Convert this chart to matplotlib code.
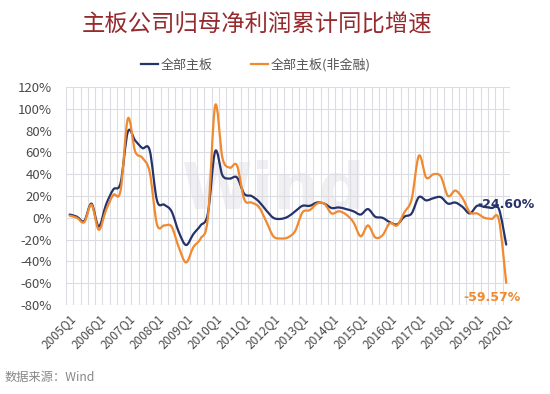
import numpy as np
import matplotlib
matplotlib.use('Agg')
import matplotlib.pyplot as plt
from matplotlib.path import Path
from matplotlib.patches import PathPatch
from matplotlib.lines import Line2D

plt.rcParams['font.family'] = ['Noto Sans CJK SC', 'DejaVu Sans']
plt.rcParams['axes.unicode_minus'] = False

#===============================================================================
# Data (quarterly, 2005Q1 - 2020Q1)
#===============================================================================
quarters = ['%dQ%d' % (y, q) for y in range(2005, 2021) for q in range(1, 5)][:61]
tick_labels = ['%dQ1' % y for y in range(2005, 2021)]

all_main = [3, 1, -3, 13, -8, 12, 26, 32, 79, 71,
            64, 62, 16, 12, 6, -13, -25, -15, -7, 4,
            61, 39, 36, 37, 22, 20, 15, 7, 0, -1,
            1, 6, 11, 11, 14, 13, 9, 9.5, 8, 6,
            3, 8, 1, 0, -4, -6, 1, 4, 19, 16,
            18, 19, 13, 14, 10, 4, 11, 10, 9, 8,
            -24.60]
non_fin = [2, 0, -4, 12, -11, 7, 21, 25, 91, 61,
           55, 42, -6, -7, -8, -27, -41, -27, -19, 0,
           103, 55, 46, 48, 17, 14, 10, -3, -17, -19,
           -18, -12, 5, 7, 13, 13, 4, 6, 3, -4,
           -17, -7, -18, -16, -5, -7, 5, 17, 57, 37,
           40, 38, 20, 25, 18, 5, 4, 0, -1, -2,
           -59.57]

navy = '#26336a'
orange = '#f0892f'


def smooth_path(x, y):
    # Excel-like smoothed line: cubic bezier segments through every point
    pts = np.column_stack([x, y]).astype(float)
    n = len(pts)
    verts = [pts[0]]
    codes = [Path.MOVETO]
    for i in range(n - 1):
        p0 = pts[i - 1] if i > 0 else pts[i]
        p1 = pts[i]
        p2 = pts[i + 1]
        p3 = pts[i + 2] if i + 2 < n else pts[i + 1]
        c1 = p1 + (p2 - p0) / 6.0
        c2 = p2 - (p3 - p1) / 6.0
        verts += [c1, c2, p2]
        codes += [Path.CURVE4] * 3
    return Path(verts, codes)


fig = plt.figure(figsize=(5.5, 3.94), dpi=100)
ax = fig.add_axes([0.12, 0.226, 0.807, 0.553])

x = np.arange(len(quarters))

# watermark
ax.text(28, 25, 'Wind', fontsize=46, fontweight='bold', color='#f0f0f3',
        ha='center', va='center', zorder=0, family='DejaVu Sans')

for vals, col in [(all_main, navy), (non_fin, orange)]:
    ax.add_patch(PathPatch(smooth_path(x, vals), facecolor='none', edgecolor=col,
                           lw=1.6, capstyle='round', joinstyle='round', zorder=3))

ax.set_xlim(-0.5, len(quarters) - 0.5)
ax.set_ylim(-80, 120)
ax.set_yticks(np.arange(-80, 121, 20))
ax.set_yticklabels(['%d%%' % v for v in np.arange(-80, 121, 20)])
ax.set_xticks(x[::4])
ax.set_xticklabels(tick_labels, rotation=45, ha='right', rotation_mode='anchor')

ax.grid(False)
for v in np.arange(-80, 121, 20):
    ax.axhline(v, color='#dcdce3', lw=0.8, zorder=1)
for b in np.arange(-0.5, len(quarters), 1):
    ax.axvline(b, color='#dcdce3', lw=0.8, zorder=1)

for s in ax.spines.values():
    s.set_visible(False)
ax.tick_params(axis='y', length=0, pad=10, labelsize=9.5, labelcolor='#4a4a4a')
ax.tick_params(axis='x', which='both', length=0, pad=5, labelsize=8.6, labelcolor='#4a4a4a')

# end labels
ax.annotate('%.2f%%' % all_main[-1], xy=(x[-1], all_main[-1]), xytext=(-21, 29),
            textcoords='offset points', color=navy, fontsize=9, fontweight='bold',
            ha='left', va='center', family='DejaVu Sans', zorder=4)
ax.annotate('%.2f%%' % non_fin[-1], xy=(x[-1], non_fin[-1]), xytext=(-10, -11),
            textcoords='offset points', color=orange, fontsize=9, fontweight='bold',
            ha='center', va='center', family='DejaVu Sans', zorder=4)

# title, legend, source
fig.text(0.467, 0.937, '主板公司归母净利润累计同比增速', color='#962a2e',
         fontsize=16.8, fontweight='light', ha='center', va='center')
handles = [Line2D([], [], color=navy, lw=1.6), Line2D([], [], color=orange, lw=1.6)]
fig.legend(handles, ['全部主板', '全部主板(非金融)'], loc='center', ncol=2,
           bbox_to_anchor=(0.465, 0.835), frameon=False, fontsize=9.4,
           handlelength=1.3, handletextpad=0.2, columnspacing=3.0,
           labelcolor='#555555')
fig.text(0.008, 0.043, '数据来源：Wind', color='#888888', fontsize=8.8,
         ha='left', va='center')

fig.savefig('out.png', dpi=100, facecolor='white')
